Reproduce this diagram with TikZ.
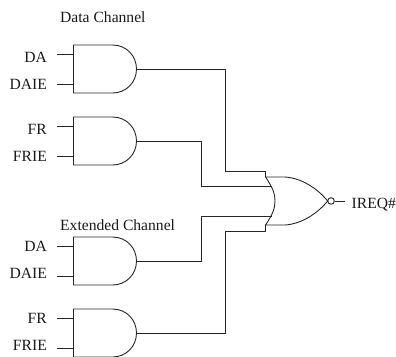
\documentclass[tikz,border=0pt]{standalone}
\usepackage{fontspec}
\setmainfont{Liberation Serif}
\tikzset{
  wire/.style={draw=black!85,line width=0.9pt},
  gateline/.style={draw=black!85,line width=0.9pt,fill=none},
  lab/.style={inner sep=0pt,font=\fontsize{15.6}{18}\selectfont,text=black!90},
  inlab/.style={lab,anchor=base east},
  headlab/.style={lab,anchor=base west},
  pics/andgate/.style={code={
    \draw[gateline] (0,0) -- (39,0) .. controls (53,0) and (63,11) .. (63,24)
       .. controls (63,37) and (53,48) .. (39,48) -- (0,48) -- cycle;
    \coordinate (-a) at (0,9);
    \coordinate (-b) at (0,39);
    \coordinate (-o) at (63,24);
  }}
}
\begin{document}
\begin{tikzpicture}[x=1pt,y=-1pt]
\clip (0,0) rectangle (396,356);
\useasboundingbox (0,0) rectangle (396,356);

\pic (g1) at (73.5,45) {andgate};
\pic (g2) at (73.5,117) {andgate};
\pic (g3) at (73.5,237) {andgate};
\pic (g4) at (73.5,309) {andgate};

\node[headlab] (h1) at (60,23) {Data Channel};
\node[headlab] (h2) at (60,230) {Extended Channel};

\node[inlab] (l1) at (47,62) {DA};
\node[inlab] (l2) at (47,89) {DAIE};
\node[inlab] (l3) at (47,134) {FR};
\node[inlab] (l4) at (47,161) {FRIE};
\node[inlab] (l5) at (47,251) {DA};
\node[inlab] (l6) at (47,278) {DAIE};
\node[inlab] (l7) at (47,323) {FR};
\node[inlab] (l8) at (47,350) {FRIE};

\coordinate (s1) at (57,54);
\coordinate (s2) at (57,84);
\coordinate (s3) at (57,126);
\coordinate (s4) at (57,156);
\coordinate (s5) at (57,246);
\coordinate (s6) at (57,276);
\coordinate (s7) at (57,318);
\coordinate (s8) at (57,348);
\draw[wire] (s1) -- (g1-a);
\draw[wire] (s2) -- (g1-b);
\draw[wire] (s3) -- (g2-a);
\draw[wire] (s4) -- (g2-b);
\draw[wire] (s5) -- (g3-a);
\draw[wire] (s6) -- (g3-b);
\draw[wire] (s7) -- (g4-a);
\draw[wire] (s8) -- (g4-b);

% NOR gate
\coordinate (top) at (265.5,177);
\coordinate (bot) at (265.5,225);
\coordinate (tip) at (327.7,201);
\coordinate (i1) at (265.5,171);
\coordinate (i2) at (272,186);
\coordinate (i3) at (272,216);
\coordinate (i4) at (265.5,231);
\draw[gateline] (top) -- (285,177) .. controls (301,178) and (317,188) .. (tip)
   .. controls (317,214) and (301,224) .. (285,225) -- (bot)
   .. controls (273,214) and (275,208) .. (275,201)
   .. controls (275,194) and (273,188) .. (top);
\node[circle,draw=black!85,line width=0.9pt,minimum size=6.6pt,inner sep=0pt] (bub) at (331,201) {};
\coordinate (oe) at (345,201);
\draw[wire] (bub) -- (oe);
\node[lab,anchor=base west] (ireq) at (351.5,208) {IREQ\#};

\draw[wire] (g1-o) -| (225,171) -- (i1) -- (top);
\draw[wire] (g2-o) -| (201,186) -- (i2);
\draw[wire] (g3-o) -| (201,216) -- (i3);
\draw[wire] (g4-o) -| (225,231) -- (i4) -- (bot);
\end{tikzpicture}
\end{document}
